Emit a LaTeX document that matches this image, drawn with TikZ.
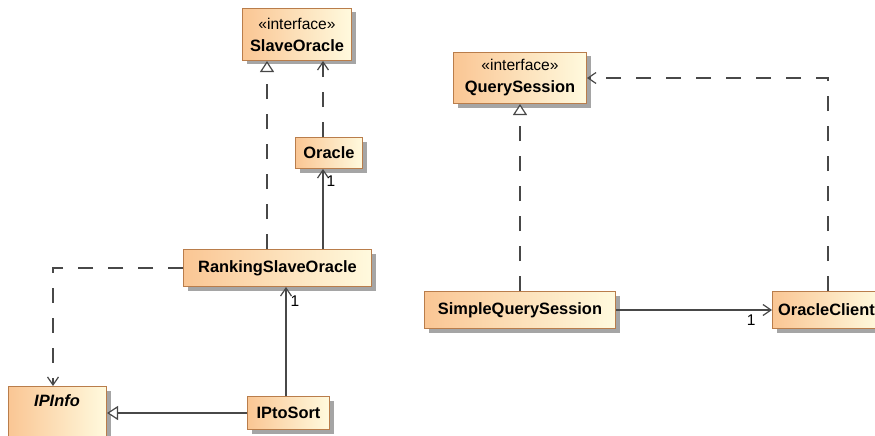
\documentclass[tikz,border=0pt]{standalone}
\usepackage{fontspec}
\setmainfont{Liberation Sans}
\usetikzlibrary{arrows.meta,shadows}
\definecolor{boxL}{RGB}{250,198,148}
\definecolor{boxR}{RGB}{255,250,222}
\definecolor{boxB}{RGB}{185,125,75}
\definecolor{lineC}{RGB}{72,72,72}
\definecolor{shadowC}{RGB}{165,165,165}
\newcommand{\umlstereo}{\fontsize{15.6}{22}\selectfont\mdseries}
\tikzset{
  cls/.style={draw=boxB, line width=1pt, left color=boxL, right color=boxR,
    drop shadow={shadow xshift=4pt, shadow yshift=-4pt, fill=shadowC, opacity=1},
    inner sep=0pt, anchor=north west, align=center,
    font=\fontsize{16.4}{22}\selectfont\bfseries},
  conn/.style={draw=lineC, line width=1.2pt},
  dashedconn/.style={conn, dash pattern=on 15pt off 15pt},
  navarrow/.style={-{Straight Barb[length=8pt,width=11pt,line width=1.2pt]}},
  genarrow/.style={-{Triangle[open,length=11pt,width=14pt,line width=1.2pt,fill=white]}},
  mult/.style={font=\fontsize{15.5}{18}\selectfont, inner sep=0pt, text=black},
}
\begin{document}
\begin{tikzpicture}[x=1pt,y=-1pt]
\path[fill=white] (0,0) rectangle (875,436);
\useasboundingbox (0,0) rectangle (875,436);
\clip (0,0) rectangle (875,436);
% classes
\node[cls, minimum width=109pt, minimum height=52pt] (so) at (242,8)
  {{\umlstereo «interface»}\\SlaveOracle};
\node[cls, minimum width=67pt, minimum height=31pt] (oracle) at (295,137) {Oracle};
\node[cls, minimum width=188pt, minimum height=37pt] (rso) at (183,249) {RankingSlaveOracle};
\node[cls, minimum width=98pt, minimum height=70pt] (ipinfo) at (8,386) {};
\node[font=\fontsize{16.4}{22}\selectfont\bfseries\itshape, inner sep=0pt] (ipinfolabel) at (57,401) {IPInfo};
\node[cls, minimum width=82pt, minimum height=33pt] (iptosort) at (247,396) {IPtoSort};
\node[cls, minimum width=133pt, minimum height=51pt] (qs) at (453,52)
  {{\umlstereo «interface»}\\QuerySession};
\node[cls, minimum width=191pt, minimum height=37pt] (sqs) at (424,291) {SimpleQuerySession};
\node[cls, minimum width=108pt, minimum height=37pt] (oc) at (772,291) {OracleClient};
% x positions of connectors
\coordinate (xa) at (267,0);
\coordinate (xb) at (323,0);
\coordinate (xc) at (53,0);
\coordinate (xd) at (286,0);
\coordinate (xf) at (828,0);
% connectors
\draw[dashedconn, genarrow] (rso.north -| xa) -- (so.south -| xa);
\draw[dashedconn, navarrow] (oracle.north -| xb) -- (so.south -| xb);
\draw[conn, navarrow] (rso.north -| xb) -- (oracle.south -| xb)
  node[mult, pos=1, anchor=north west, xshift=3pt, yshift=-6pt] (m1) {1};
\draw[dashedconn, navarrow] (rso.west) -| (ipinfo.north -| xc);
\draw[conn, navarrow] (iptosort.north -| xd) -- (rso.south -| xd)
  node[mult, pos=1, anchor=north west, xshift=4pt, yshift=-8pt] (m2) {1};
\draw[conn, genarrow] (iptosort.west) -- (ipinfo.east |- iptosort.west);
\draw[dashedconn, genarrow] (sqs.north) -- (qs.south);
\draw[dashedconn, navarrow] (oc.north -| xf) |- (qs.east);
\draw[conn, navarrow] (sqs.east) -- (oc.west)
  node[mult, pos=1, anchor=north east, xshift=-16pt, yshift=-4pt] (m3) {1};
\end{tikzpicture}
\end{document}
